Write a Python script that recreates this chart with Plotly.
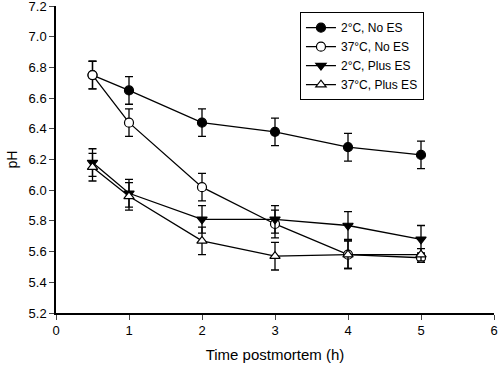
import plotly.graph_objects as go

time_h = [0.5, 1, 2, 3, 4, 5]
ph_2c_no_es = [6.75, 6.65, 6.44, 6.38, 6.28, 6.23]
ph_37c_no_es = [6.75, 6.44, 6.02, 5.78, 5.58, 5.56]
ph_2c_plus_es = [6.18, 5.98, 5.81, 5.81, 5.77, 5.68]
ph_37c_plus_es = [6.15, 5.96, 5.67, 5.57, 5.58, 5.58]
err_2c_no_es = [0.09, 0.09, 0.09, 0.09, 0.09, 0.09]
err_37c_no_es = [0.09, 0.09, 0.09, 0.09, 0.09, 0.03]
err_2c_plus_es = [0.09, 0.09, 0.09, 0.09, 0.09, 0.09]
err_37c_plus_es = [0.09, 0.09, 0.09, 0.09, 0.09, 0.04]
names = ["2°C, No ES", "37°C, No ES", "2°C, Plus ES", "37°C, Plus ES"]
y_ticks = [5.2, 5.4, 5.6, 5.8, 6.0, 6.2, 6.4, 6.6, 6.8, 7.0, 7.2]
x_ticks = [0, 1, 2, 3, 4, 5, 6]

series = [
    (ph_2c_no_es, err_2c_no_es, "circle", "black"),
    (ph_37c_no_es, err_37c_no_es, "circle", "white"),
    (ph_2c_plus_es, err_2c_plus_es, "triangle-down", "black"),
    (ph_37c_plus_es, err_37c_plus_es, "triangle-up", "white"),
]

fig = go.Figure()
for (vals, err, sym, fill), name in zip(series, names):
    fig.add_trace(go.Scatter(
        x=time_h, y=vals, name=name, mode="lines+markers",
        line=dict(color="black", width=1.3),
        marker=dict(symbol=sym, size=9, color=fill, line=dict(color="black", width=1.2)),
        error_y=dict(type="data", array=err, visible=True, color="black", thickness=1.3, width=4),
    ))

font = "Liberation Sans, Arial, sans-serif"
fig.update_layout(
    width=500, height=371,
    margin=dict(l=56, r=6, t=6, b=58, autoexpand=False),
    paper_bgcolor="white", plot_bgcolor="white",
    font=dict(family=font, size=13, color="black"),
    showlegend=True,
    legend=dict(
        x=0.557, y=0.98, xanchor="left", yanchor="top",
        bordercolor="black", borderwidth=1, bgcolor="white",
        font=dict(size=12), tracegroupgap=0, itemwidth=30,
    ),
    xaxis=dict(
        range=[0, 6], tickvals=x_ticks, ticks="outside", ticklen=5,
        showline=True, linecolor="black", linewidth=1.5, showgrid=False, zeroline=False,
        title=dict(text="Time postmortem (h)", font=dict(size=15), standoff=12),
        tickfont=dict(size=13), automargin=False, ticklabeloverflow="allow",
    ),
    yaxis=dict(
        range=[5.2, 7.2], tickvals=y_ticks, tickformat=".1f", ticks="outside", ticklen=5,
        showline=True, linecolor="black", linewidth=1.5, showgrid=False, zeroline=False,
        title=dict(text="pH", font=dict(size=14), standoff=8),
        tickfont=dict(size=13), automargin=False, ticklabeloverflow="allow",
    ),
)
fig.write_html(
    "out.html",
    config={"displayModeBar": False},
    post_script="document.body.style.margin='0';document.body.style.padding='0';",
)
